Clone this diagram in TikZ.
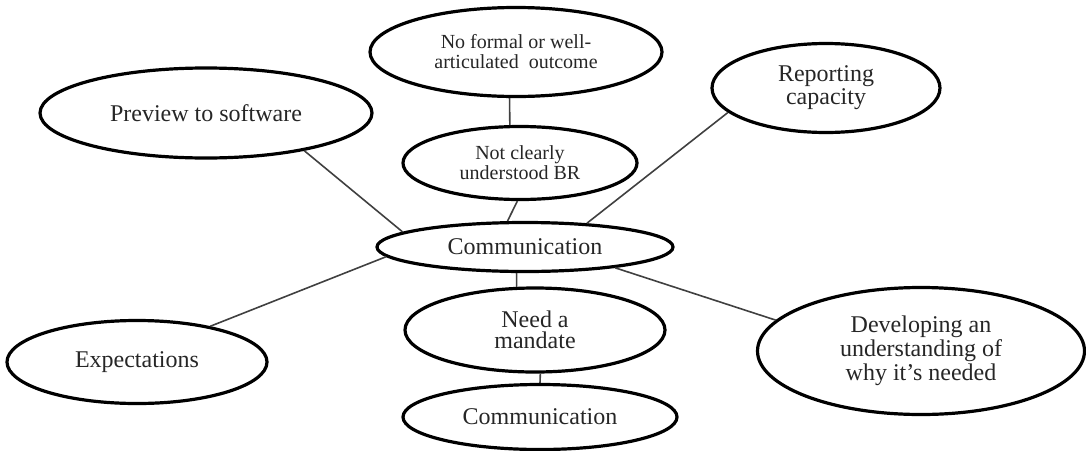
\documentclass[tikz,border=0pt]{standalone}
\usepackage{fontspec}
\setmainfont{Liberation Serif}
\usetikzlibrary{shapes}

\begin{document}
\begin{tikzpicture}[x=0.5pt,y=-0.5pt,line width=0.8pt,
  bubble/.style={ellipse,draw,line width=1.6pt,inner sep=0pt,align=center,
    text=black!85,font=\fontsize{12}{10.5}\selectfont},
  small/.style={font=\fontsize{10}{10}\selectfont}]
  \useasboundingbox (0,0) rectangle (1086,450);

  \node[bubble,small,minimum width=146pt,minimum height=44.5pt] (outc) at (516,52) {No formal or well-\\articulated\ \ outcome};
  \node[bubble,small,minimum width=117pt,minimum height=36.5pt] (br)   at (520,163) {Not clearly\\understood BR};
  \node[bubble,minimum width=166pt,minimum height=45pt]   (prev)  at (206,113) {Preview to software};
  \node[bubble,minimum width=114pt,minimum height=44.5pt] (rep)   at (826,88)  {Reporting\\capacity};
  \node[bubble,minimum width=148pt,minimum height=24.5pt] (comm)  at (525,247) {Communication};
  \node[bubble,minimum width=130pt,minimum height=42pt]   (mand)  at (535,330) {Need a\\mandate};
  \node[bubble,minimum width=137pt,minimum height=32.5pt] (comm2) at (540,417) {Communication};
  \node[bubble,minimum width=130pt,minimum height=41.5pt] (exp)   at (137,362) {Expectations};
  \node[bubble,minimum width=163.5pt,minimum height=63.5pt] (dev) at (921,351) {Developing an\\understanding of\\why it's needed};

  \path[black!75]
    (outc.-98)  edge (br.105.4)
    (br.-94.7)  edge (comm.124.9)
    (prev.-21)  edge (comm.173)
    (rep.-166)  edge (comm.21)
    (exp.26.6)  edge (comm.-176)
    (comm.-108) edge (mand.113.4)
    (mand.-83)  edge (comm2.north)
    (comm.-13.6) edge (dev.168.2);
\end{tikzpicture}
\end{document}
